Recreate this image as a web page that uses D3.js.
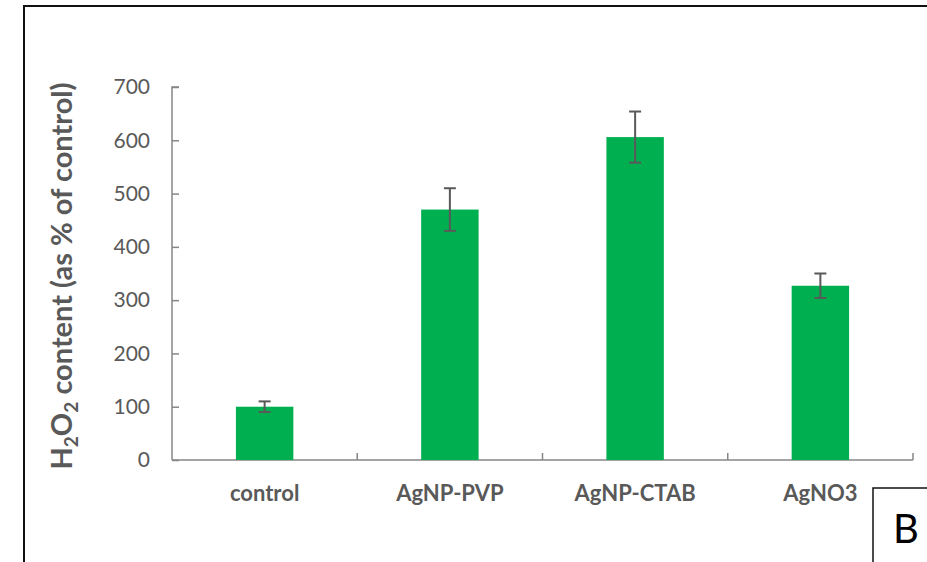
<!DOCTYPE html>
<html>
<head>
<meta charset="utf-8">
<script src="https://cdn.jsdelivr.net/npm/d3@7"></script>
<style>
  body { margin: 0; background: #fff; }
  svg { display: block; font-family: Lato, "Open Sans", sans-serif; }
</style>
</head>
<body>
<div id="chart"></div>
<script>
var categories = ['control', 'AgNP-PVP', 'AgNP-CTAB', 'AgNO3'];
var values = [100, 470, 606, 327];
var errors = [10, 40, 48, 23];
var yTicks = [0, 100, 200, 300, 400, 500, 600, 700];

var w = 927,
	h = 562,
	plotLeft = 172,
	plotRight = 913,
	plotTop = 87,
	plotBottom = 460,
	grey = '#595959',
	axisGrey = '#868686';

var svg = d3.select('#chart')
	.append('svg')
	.attr('width', w)
	.attr('height', h);

// outer frame (runs off the right and bottom edge)
svg.append('rect')
	.attr('x', 24)
	.attr('y', 6)
	.attr('width', w + 20)
	.attr('height', h + 20)
	.attr('fill', 'none')
	.attr('stroke', '#111')
	.attr('stroke-width', 2);

var xScale = d3.scaleBand()
	.domain(categories)
	.range([plotLeft, plotRight])
	.paddingInner(0.69)
	.paddingOuter(0.345);

var yScale = d3.scaleLinear()
	.domain([0, 700])
	.range([plotBottom, plotTop]);

// y axis, ticks pointing inward
var yAxis = svg.append('g')
	.attr('transform', 'translate(' + plotLeft + ',0)')
	.call(d3.axisLeft(yScale).tickValues(yTicks).tickSize(-7).tickPadding(22));
yAxis.select('.domain')
	.attr('stroke', axisGrey)
	.attr('stroke-width', 1.5)
	.attr('d', 'M7,' + plotTop + 'H0V' + plotBottom);
yAxis.selectAll('.tick line').attr('stroke', axisGrey).attr('stroke-width', 1.5);
yAxis.selectAll('.tick text')
	.attr('fill', grey)
	.attr('font-family', 'Lato, sans-serif')
	.attr('font-size', 21);

// x axis: ticks between categories
var bandStep = xScale.step();
var xBounds = categories.map(function(d, i) {
	return plotLeft + (i + 1) * bandStep;
});
svg.append('line')
	.attr('x1', plotLeft).attr('x2', plotRight)
	.attr('y1', plotBottom).attr('y2', plotBottom)
	.attr('stroke', axisGrey).attr('stroke-width', 1.5);
svg.selectAll('.xtick')
	.data(xBounds)
	.enter()
	.append('line')
	.attr('class', 'xtick')
	.attr('x1', function(d) { return d; })
	.attr('x2', function(d) { return d; })
	.attr('y1', plotBottom)
	.attr('y2', plotBottom - 7)
	.attr('stroke', axisGrey)
	.attr('stroke-width', 1.5);

svg.selectAll('.xlabel')
	.data(categories)
	.enter()
	.append('text')
	.attr('class', 'xlabel')
	.attr('x', function(d) { return xScale(d) + xScale.bandwidth() / 2; })
	.attr('y', 501)
	.attr('text-anchor', 'middle')
	.attr('font-weight', 'bold')
	.attr('font-size', 22)
	.attr('fill', grey)
	.text(function(d) { return d; });

// bars
svg.selectAll('.bar')
	.data(values)
	.enter()
	.append('rect')
	.attr('class', 'bar')
	.attr('x', function(d, i) { return xScale(categories[i]); })
	.attr('y', function(d) { return yScale(d); })
	.attr('width', xScale.bandwidth())
	.attr('height', function(d) { return plotBottom - yScale(d); })
	.attr('fill', '#00B050');

// error bars
var eb = svg.selectAll('.err')
	.data(values)
	.enter()
	.append('g')
	.attr('class', 'err')
	.attr('stroke', grey)
	.attr('stroke-width', 2);
eb.append('line')
	.attr('x1', function(d, i) { return xScale(categories[i]) + xScale.bandwidth() / 2; })
	.attr('x2', function(d, i) { return xScale(categories[i]) + xScale.bandwidth() / 2; })
	.attr('y1', function(d, i) { return yScale(d + errors[i]); })
	.attr('y2', function(d, i) { return yScale(d - errors[i]); });
[1, -1].forEach(function(s) {
	eb.append('line')
		.attr('x1', function(d, i) { return xScale(categories[i]) + xScale.bandwidth() / 2 - 6; })
		.attr('x2', function(d, i) { return xScale(categories[i]) + xScale.bandwidth() / 2 + 6; })
		.attr('y1', function(d, i) { return yScale(d + s * errors[i]); })
		.attr('y2', function(d, i) { return yScale(d + s * errors[i]); });
});

// y title
var title = svg.append('text')
	.attr('transform', 'translate(72,276) rotate(-90)')
	.attr('text-anchor', 'middle')
	.attr('font-weight', 'bold')
	.attr('font-size', 29)
	.attr('fill', grey);
title.append('tspan').text('H');
title.append('tspan').attr('font-size', 19).attr('dy', 6).text('2');
title.append('tspan').attr('dy', -6).text('O');
title.append('tspan').attr('font-size', 19).attr('dy', 6).text('2');
title.append('tspan').attr('dy', -6).text(' content (as % of control)');

// panel label box
svg.append('rect')
	.attr('x', 873)
	.attr('y', 488)
	.attr('width', 80)
	.attr('height', 100)
	.attr('fill', '#fff')
	.attr('stroke', '#111')
	.attr('stroke-width', 1.5);
svg.append('text')
	.attr('x', 906)
	.attr('y', 543)
	.attr('text-anchor', 'middle')
	.attr('font-family', 'Lato, sans-serif')
	.attr('font-size', 40)
	.attr('fill', '#000')
	.text('B');
</script>
</body>
</html>
